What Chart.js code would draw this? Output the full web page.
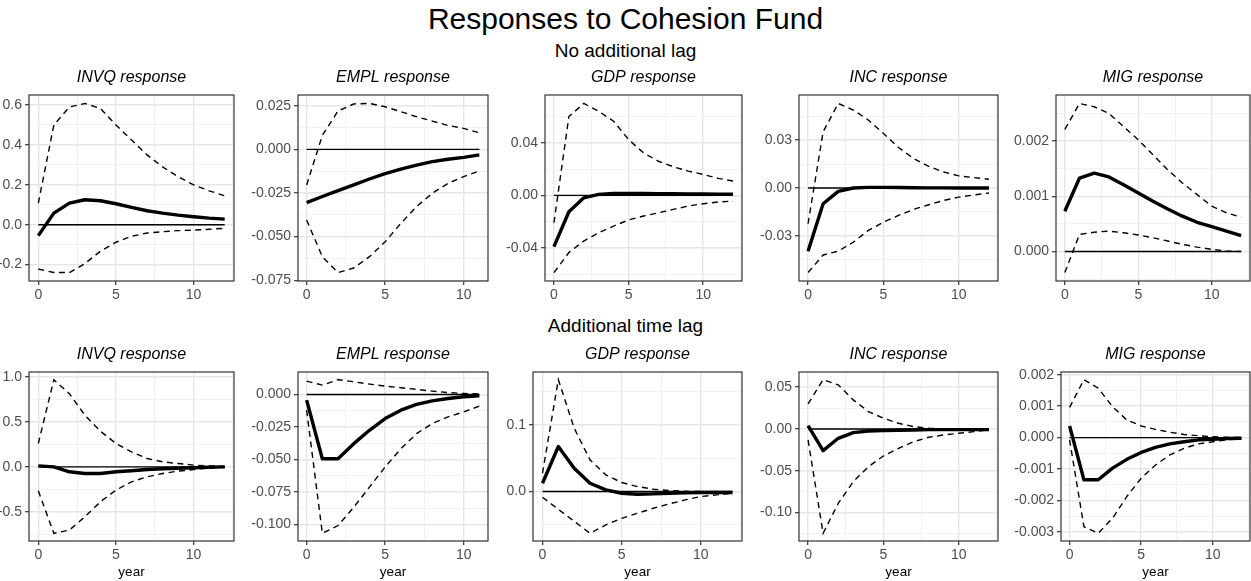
<!DOCTYPE html>
<html>
<head>
<meta charset="utf-8">
<title>Responses to Cohesion Fund</title>
<script src="https://cdn.jsdelivr.net/npm/chart.js@4.4.1/dist/chart.umd.min.js"></script>
<style>
  body { margin: 0; background: #fff; }
  #page { position: relative; width: 1251px; height: 581px; overflow: hidden;
          font-family: 'Liberation Sans', Arial, sans-serif; }
  .head { position: absolute; left: 0; width: 1251px; text-align: center; color: #000; line-height: 1; }
  canvas { position: absolute; }
</style>
</head>
<body>
<div id="page">
  <div class="head" style="top:4px;font-size:30px">Responses to Cohesion Fund</div>
  <div class="head" style="top:41px;font-size:19px">No additional lag</div>
  <div class="head" style="top:316px;font-size:19px">Additional time lag</div>
</div>
<script>
// horizons (years after the shock)
const years12 = [0, 1, 2, 3, 4, 5, 6, 7, 8, 9, 10, 11, 12];
const years11 = [0, 1, 2, 3, 4, 5, 6, 7, 8, 9, 10, 11];
const xTickLabels = ['0', '5', '10'];

// --- no additional lag ---
const invqResp = [-0.055, 0.058, 0.108, 0.125, 0.120, 0.105, 0.087, 0.070, 0.058, 0.048, 0.040, 0.033, 0.028];
const invqLo   = [-0.222, -0.240, -0.240, -0.195, -0.133, -0.088, -0.058, -0.042, -0.035, -0.030, -0.027, -0.023, -0.018];
const invqHi   = [0.108, 0.500, 0.590, 0.608, 0.583, 0.500, 0.425, 0.350, 0.290, 0.240, 0.200, 0.170, 0.145];
const invqTicks = ['-0.2', '0.0', '0.2', '0.4', '0.6'];

const emplResp = [-0.0305, -0.0270, -0.0237, -0.0204, -0.0170, -0.0139, -0.0113, -0.0090, -0.0070, -0.0057, -0.0046, -0.0032];
const emplLo   = [-0.0405, -0.0615, -0.0706, -0.0680, -0.0615, -0.0530, -0.0424, -0.0328, -0.0252, -0.0195, -0.0156, -0.0124];
const emplHi   = [-0.0204, 0.0080, 0.0220, 0.0260, 0.0263, 0.0244, 0.0216, 0.0187, 0.0162, 0.0137, 0.0120, 0.0095];
const emplTicks = ['-0.075', '-0.050', '-0.025', '0.000', '0.025'];

const gdpResp = [-0.0390, -0.0124, -0.0018, 0.0008, 0.0015, 0.0015, 0.0015, 0.0014, 0.0013, 0.0012, 0.0011, 0.0010, 0.0009];
const gdpLo   = [-0.0587, -0.0435, -0.0347, -0.0284, -0.0233, -0.0187, -0.0157, -0.0132, -0.0106, -0.0081, -0.0063, -0.0050, -0.0043];
const gdpHi   = [-0.0208, 0.0600, 0.0700, 0.0640, 0.0565, 0.0425, 0.0324, 0.0260, 0.0218, 0.0185, 0.0160, 0.0130, 0.0110];
const gdpTicks = ['-0.04', '0.00', '0.04'];

const incResp = [-0.0396, -0.0099, -0.0021, 0.0000, 0.0004, 0.0004, 0.0003, 0.0002, 0.0001, 0.0001, 0.0000, 0.0000, 0.0000];
const incLo   = [-0.0530, -0.0420, -0.0396, -0.0340, -0.0266, -0.0214, -0.0172, -0.0134, -0.0105, -0.0078, -0.0057, -0.0044, -0.0031];
const incHi   = [-0.0224, 0.0352, 0.0530, 0.0489, 0.0426, 0.0342, 0.0254, 0.0185, 0.0136, 0.0100, 0.0076, 0.0065, 0.0055];
const incTicks = ['-0.03', '0.00', '0.03'];

const migResp = [0.00073, 0.00133, 0.00142, 0.00135, 0.00121, 0.00106, 0.00091, 0.00077, 0.00064, 0.00053, 0.00045, 0.00037, 0.00029];
const migLo   = [-0.00038, 0.00031, 0.00035, 0.00037, 0.00034, 0.00030, 0.00025, 0.00019, 0.00013, 0.00008, 0.00004, 0.00001, 0.00000];
const migHi   = [0.00221, 0.00268, 0.00262, 0.00250, 0.00226, 0.00202, 0.00175, 0.00148, 0.00124, 0.00103, 0.00082, 0.00070, 0.00062];
const migTicks = ['0.000', '0.001', '0.002'];

// --- additional time lag ---
const invqLagResp = [0.011, 0.000, -0.055, -0.074, -0.074, -0.055, -0.044, -0.030, -0.022, -0.015, -0.011, -0.004, 0.000];
const invqLagLo   = [-0.267, -0.740, -0.704, -0.556, -0.389, -0.259, -0.167, -0.111, -0.074, -0.048, -0.030, -0.011, -0.004];
const invqLagHi   = [0.260, 0.970, 0.815, 0.574, 0.396, 0.260, 0.167, 0.093, 0.056, 0.037, 0.019, 0.011, 0.004];
const invqLagTicks = ['-0.5', '0.0', '0.5', '1.0'];

const emplLagResp = [-0.0044, -0.0495, -0.0495, -0.0379, -0.0276, -0.0186, -0.0121, -0.0077, -0.0049, -0.0031, -0.0018, -0.0010];
const emplLagLo   = [-0.0121, -0.1070, -0.1010, -0.0869, -0.0714, -0.0559, -0.0418, -0.0302, -0.0224, -0.0173, -0.0134, -0.0090];
const emplLagHi   = [0.0103, 0.0072, 0.0114, 0.0098, 0.0080, 0.0064, 0.0052, 0.0039, 0.0026, 0.0015, 0.0008, 0.0003];
const emplLagTicks = ['-0.100', '-0.075', '-0.050', '-0.025', '0.000'];

const gdpLagResp = [0.0125, 0.0675, 0.0350, 0.0125, 0.0025, -0.0025, -0.0040, -0.0035, -0.0025, -0.0020, -0.0015, -0.0015, -0.0015];
const gdpLagLo   = [-0.0085, -0.0265, -0.0445, -0.0625, -0.0500, -0.0400, -0.0325, -0.0250, -0.0185, -0.0125, -0.0075, -0.0050, -0.0025];
const gdpLagHi   = [0.0275, 0.1675, 0.0950, 0.0475, 0.0250, 0.0135, 0.0075, 0.0035, 0.0015, 0.0005, 0.0000, -0.0005, -0.0015];
const gdpLagTicks = ['0.0', '0.1'];

const incLagResp = [0.0040, -0.0260, -0.0112, -0.0044, -0.0024, -0.0020, -0.0016, -0.0012, -0.0008, -0.0008, -0.0008, -0.0008, -0.0008];
const incLagLo   = [-0.0132, -0.1250, -0.0892, -0.0632, -0.0452, -0.0324, -0.0232, -0.0152, -0.0100, -0.0072, -0.0052, -0.0032, -0.0012];
const incLagHi   = [0.0300, 0.0590, 0.0528, 0.0348, 0.0208, 0.0128, 0.0068, 0.0028, 0.0008, 0.0000, -0.0004, -0.0008, -0.0008];
const incLagTicks = ['-0.10', '-0.05', '0.00', '0.05'];

const migLagResp = [0.00037, -0.00134, -0.00134, -0.00097, -0.00069, -0.00047, -0.00031, -0.00020, -0.00013, -0.00007, -0.00005, -0.00003, -0.00002];
const migLagLo   = [-0.00007, -0.00283, -0.00304, -0.00256, -0.00187, -0.00129, -0.00087, -0.00055, -0.00034, -0.00020, -0.00013, -0.00007, -0.00004];
const migLagHi   = [0.00096, 0.00184, 0.00157, 0.00098, 0.00056, 0.00037, 0.00026, 0.00017, 0.00010, 0.00006, 0.00003, 0.00001, 0.00000];
const migLagTicks = ['-0.003', '-0.002', '-0.001', '0.000', '0.001', '0.002'];

const panels = [
  { title: 'INVQ response', x: years12, resp: invqResp, lo: invqLo, hi: invqHi, ticks: invqTicks },
  { title: 'EMPL response', x: years11, resp: emplResp, lo: emplLo, hi: emplHi, ticks: emplTicks },
  { title: 'GDP response',  x: years12, resp: gdpResp,  lo: gdpLo,  hi: gdpHi,  ticks: gdpTicks },
  { title: 'INC response',  x: years12, resp: incResp,  lo: incLo,  hi: incHi,  ticks: incTicks },
  { title: 'MIG response',  x: years12, resp: migResp,  lo: migLo,  hi: migHi,  ticks: migTicks },
  { title: 'INVQ response', x: years12, resp: invqLagResp, lo: invqLagLo, hi: invqLagHi, ticks: invqLagTicks },
  { title: 'EMPL response', x: years11, resp: emplLagResp, lo: emplLagLo, hi: emplLagHi, ticks: emplLagTicks },
  { title: 'GDP response',  x: years12, resp: gdpLagResp,  lo: gdpLagLo,  hi: gdpLagHi,  ticks: gdpLagTicks },
  { title: 'INC response',  x: years12, resp: incLagResp,  lo: incLagLo,  hi: incLagHi,  ticks: incLagTicks },
  { title: 'MIG response',  x: years12, resp: migLagResp,  lo: migLagLo,  hi: migLagHi,  ticks: migLagTicks }
];

// panel boxes on the page
const rowBox = [{ top: 95, bottom: 281, axisH: 25 }, { top: 372, bottom: 541, axisH: 39 }];
const plotX = [
  [[29, 234], [298, 488], [545, 742], [799, 998], [1056, 1250]],
  [[29, 234], [298, 488], [533, 742], [799, 998], [1061, 1250]]
];

const FONT = "'Liberation Sans', Arial, sans-serif";
Chart.defaults.font.family = FONT;

// ggplot-like panel.border
const panelBorder = {
  id: 'panelBorder',
  afterDatasetsDraw(chart) {
    const { ctx, chartArea: a } = chart;
    ctx.save();
    ctx.strokeStyle = '#333333';
    ctx.lineWidth = 1.2;
    ctx.strokeRect(a.left, a.top, a.right - a.left, a.bottom - a.top);
    ctx.restore();
  }
};

// major ticks with labels plus unlabeled minor ticks half way between them
function gridTicks(values, labels, min, max) {
  const step = values.length > 1 ? values[1] - values[0] : 1;
  const out = [];
  values.forEach((v, i) => out.push({ value: v, text: labels[i], minor: false }));
  const mids = [values[0] - step / 2];
  for (let i = 0; i < values.length; i++) mids.push(values[i] + step / 2);
  mids.forEach(v => out.push({ value: v, text: '', minor: true }));
  return out.filter(t => t.value >= min - 1e-12 && t.value <= max + 1e-12)
            .sort((a, b) => a.value - b.value);
}

const gridStyle = {
  color: c => (c.tick && c.tick.minor) ? '#EFEFEF' : '#E6E6E6',
  lineWidth: c => (c.tick && c.tick.minor) ? 0.8 : 1.4,
  tickColor: c => (c.tick && c.tick.minor) ? 'rgba(0,0,0,0)' : '#333333',
  tickWidth: 1.2,
  tickLength: 4,
  drawTicks: true
};

const page = document.getElementById('page');

panels.forEach((p, idx) => {
  const row = idx < 5 ? 0 : 1;
  const col = idx % 5;
  const box = rowBox[row];
  const cellLeft = col * 250;
  const [pl, pr] = plotX[row][col];
  const top = box.top - 27;

  const canvas = document.createElement('canvas');
  canvas.width = pr - cellLeft + 1;
  canvas.height = box.bottom + box.axisH - top;
  canvas.style.left = cellLeft + 'px';
  canvas.style.top = top + 'px';
  page.appendChild(canvas);

  // ranges padded by 5% like ggplot's default expansion
  const all = p.lo.concat(p.hi, p.resp, [0]);
  const yLo = Math.min(...all), yHi = Math.max(...all);
  const yPad = (yHi - yLo) * 0.05;
  const yMin = yLo - yPad, yMax = yHi + yPad;
  const xLast = p.x[p.x.length - 1];
  const xMin = -xLast * 0.05, xMax = xLast * 1.05;

  const yVals = p.ticks.map(Number);
  const xVals = xTickLabels.map(Number);
  const pts = arr => p.x.map((x, i) => ({ x: x, y: arr[i] }));

  new Chart(canvas, {
    type: 'line',
    data: {
      datasets: [
        { data: pts(p.resp), borderColor: '#000', borderWidth: 3.4, borderJoinStyle: 'round' },
        { data: pts(p.hi), borderColor: '#000', borderWidth: 1.4, borderDash: [6, 4.5] },
        { data: pts(p.lo), borderColor: '#000', borderWidth: 1.4, borderDash: [6, 4.5] },
        { data: p.x.map(x => ({ x: x, y: 0 })), borderColor: '#000', borderWidth: 1.4 }
      ]
    },
    options: {
      responsive: false,
      animation: false,
      events: [],
      elements: { point: { radius: 0 }, line: { tension: 0 } },
      layout: { padding: { top: 0, left: 0, right: 1, bottom: 0 } },
      plugins: {
        legend: { display: false },
        tooltip: { enabled: false },
        title: {
          display: true,
          text: p.title,
          fullSize: false,
          color: '#000',
          font: { size: 16, style: 'italic', weight: 'normal' },
          padding: { top: 0, bottom: 7.8 }
        }
      },
      scales: {
        x: {
          type: 'linear',
          min: xMin,
          max: xMax,
          border: { display: false },
          grid: gridStyle,
          afterBuildTicks: s => { s.ticks = gridTicks(xVals, xTickLabels, xMin, xMax); },
          afterFit: s => { s.height = box.axisH; s.paddingLeft = 0; s.paddingRight = 0; },
          ticks: {
            autoSkip: false,
            maxRotation: 0,
            padding: 2,
            color: '#4D4D4D',
            font: { size: 14 },
            callback: (v, i, t) => t[i].text
          },
          title: {
            display: row === 1,
            text: 'year',
            color: '#000',
            font: { size: 13.5 },
            padding: { top: 0, bottom: 0 }
          }
        },
        y: {
          type: 'linear',
          min: yMin,
          max: yMax,
          border: { display: false },
          grid: gridStyle,
          afterBuildTicks: s => { s.ticks = gridTicks(yVals, p.ticks, yMin, yMax); },
          afterFit: s => { s.width = pl - cellLeft; s.paddingTop = 0; s.paddingBottom = 0; },
          ticks: {
            autoSkip: false,
            padding: 3,
            color: '#4D4D4D',
            font: { size: 14 },
            callback: (v, i, t) => t[i].text
          }
        }
      }
    },
    plugins: [panelBorder]
  });
});
</script>
</body>
</html>
